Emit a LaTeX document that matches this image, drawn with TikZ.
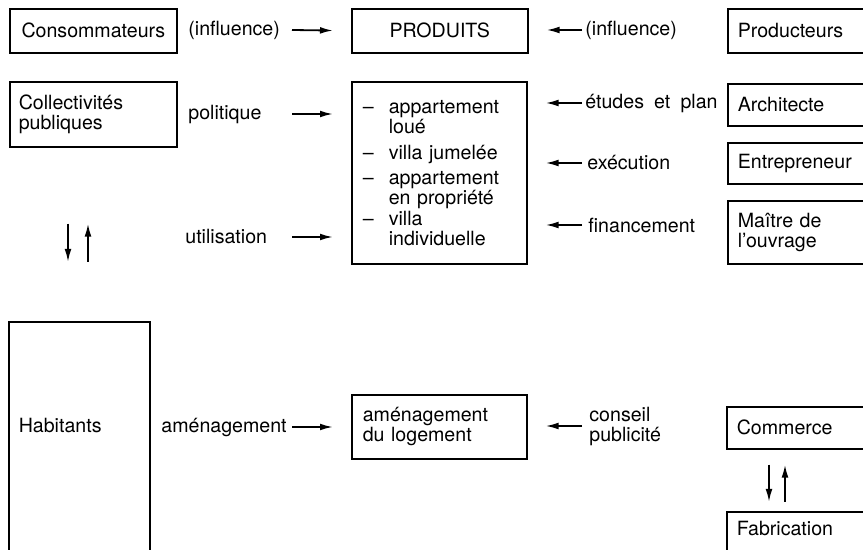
\documentclass[tikz,border=0pt]{standalone}
\usepackage{fontspec}
\setmainfont{TeX Gyre Heros}
\usetikzlibrary{arrows.meta}
\tikzset{>={Latex[length=6.5pt,width=3.4pt]}}
\newcommand{\widesp}{\spaceskip=0.52em plus 0.1em minus 0.05em\relax}
\tikzset{
    box/.style={draw, line width=0.8pt, anchor=north west, inner xsep=5pt, inner ysep=0pt, align=left},
    lbl/.style={inner sep=1pt, anchor=west, align=left},
    link/.style={->, line width=0.9pt},
}
\newcommand{\itm}{\makebox[13pt][l]{--}}
\newcommand{\hang}{\hspace*{13pt}}

\begin{document}
\begin{tikzpicture}[x=0.5pt, y=-0.5pt, font=\fontsize{9.8}{10}\selectfont\widesp]
            \useasboundingbox (0,0) rectangle (863,550);
            \clip (0,0) rectangle (863,550);

            \node[box, text width=73.5pt, minimum height=22pt, align=center] (cons) at (9,8) {Consommateurs};
            \node[box, text width=78pt, minimum height=22pt, align=center] (prod) at (351,8) {PRODUITS};
            \node[box, text width=66.5pt, minimum height=22pt] (prodr) at (727,8) {Producteurs};

            \node[box, text width=74.5pt, minimum height=32.5pt, inner xsep=4.5pt] (coll) at (9,81) {Collectivités\\publiques};
            \node[box, text width=76.5pt, minimum height=91pt, inner xsep=5.5pt] (list) at (351,81)
                {\itm appartement\\ \hang loué\\[3pt]
                 \itm villa jumelée\\[2.5pt]
                 \itm appartement\\ \hang en propriété\\[0.5pt]
                 \itm villa\\ \hang individuelle};
            \node[box, text width=66.5pt, minimum height=21pt] (arch) at (727,83) {Architecte};
            \node[box, text width=66.5pt, minimum height=20.5pt] (entr) at (727,142) {Entrepreneur};
            \node[box, text width=66.5pt, minimum height=31.5pt] (mait) at (727,200) {Maître de\\l’ouvrage};

            \node[box, text width=60.5pt, text height=55.5pt, text depth=75pt] (hab) at (8,321) {Habitants};
            \node[box, text width=76.5pt, minimum height=32pt, inner xsep=5.5pt] (amlog) at (351,394) {aménagement\\du logement};
            \node[box, text width=66.5pt, minimum height=21pt] (comm) at (726,406) {Commerce};
            \node[box, text width=66.5pt, text height=12pt, text depth=15pt] (fab) at (726,511) {Fabrication};

            \node[lbl] (infa) at (186,30) {(influence)};
            \node[lbl] (pol) at (186,114) {politique};
            \node[lbl] (util) at (183,237) {utilisation};
            \node[lbl] (amen) at (159,427) {aménagement};

            \node[lbl] (infb) at (583,30) {(influence)};
            \node[lbl] (etud) at (583,103) {études et plan};
            \node[lbl] (exec) at (585,163) {exécution};
            \node[lbl] (fin) at (586,225) {financement};
            \node[lbl] (cpub) at (587,426) {conseil\\publicité};

            \coordinate (tl) at (292,0);
            \coordinate (tr) at (582,0);
            \coordinate (dl) at (68,0);
            \coordinate (ul) at (88,0);
            \coordinate (dr) at (769,0);
            \coordinate (ur) at (785,0);

            \draw[link, shorten >=9pt] (infa -| tl) -- (prod.west);
            \draw[link, shorten >=9pt] (pol -| tl) -- (list.west |- pol);
            \draw[link, shorten >=9pt] (util -| tl) -- (list.west |- util);
            \draw[link, shorten >=9pt] (amen -| tl) -- (amlog.west |- amen);

            \draw[link, shorten >=9pt] (infb -| tr) -- (prod.east |- infb);
            \draw[link, shorten >=9pt] (etud -| tr) -- (list.east |- etud);
            \draw[link, shorten >=9pt] (exec -| tr) -- (list.east |- exec);
            \draw[link, shorten >=9pt] (fin -| tr) -- (list.east |- fin);
            \draw[link, shorten >=9pt] (cpub -| tr) -- (amlog.east |- cpub);

            \draw[link, shorten <=38pt, shorten >=29.5pt] (coll.south -| dl) -- (hab.north -| dl);
            \draw[link, shorten <=29.5pt, shorten >=38pt] (hab.north -| ul) -- (coll.south -| ul);
            \draw[link, shorten <=7.5pt, shorten >=4.5pt] (comm.south -| dr) -- (fab.north -| dr);
            \draw[link, shorten <=4.5pt, shorten >=7.5pt] (fab.north -| ur) -- (comm.south -| ur);
\end{tikzpicture}
\end{document}
